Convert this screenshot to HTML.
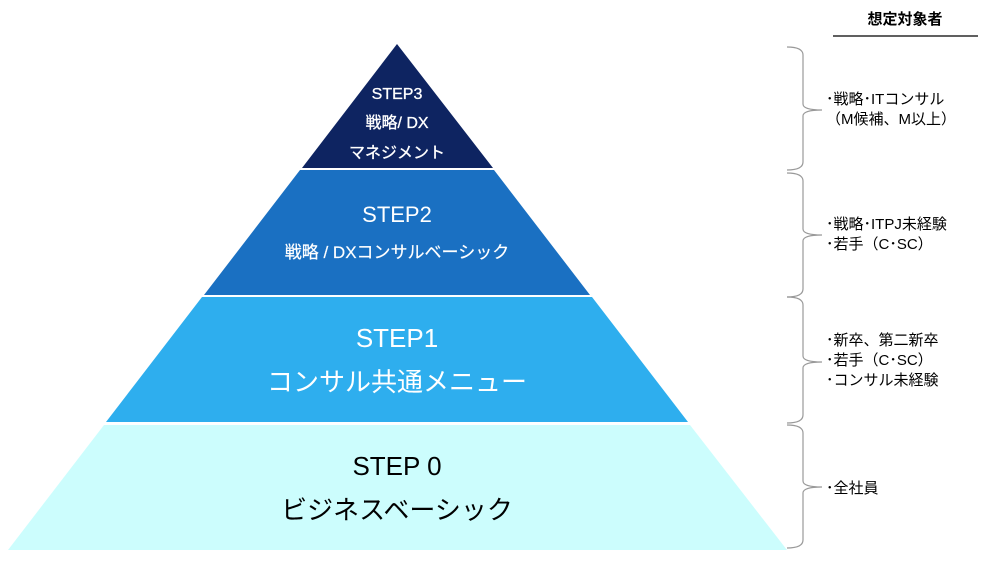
<!DOCTYPE html>
<html><head><meta charset="utf-8"><style>
body{margin:0;background:#fff;}
svg text{font-family:"Liberation Sans","Noto Sans CJK JP",sans-serif;}
</style></head><body>
<svg width="984" height="562" viewBox="0 0 984 562" xmlns="http://www.w3.org/2000/svg">
<polygon points="397,44 493,168 302,168" fill="#0e2461"/>
<polygon points="300,170 494,170 590,295 204,295" fill="#1a70c2"/>
<polygon points="202,297 592,297 688,422 106,422" fill="#2eaeee"/>
<polygon points="104,425 690,425 787,550 8,550" fill="#ccfdfd"/>
<g fill="#fff" text-anchor="middle">
<text x="397" y="99" font-size="16" stroke="#fff" stroke-width="0.3">STEP3</text>
<text x="397" y="128" font-size="16" stroke="#fff" stroke-width="0.3">戦略/ DX</text>
<text x="397" y="158" font-size="16" stroke="#fff" stroke-width="0.3">マネジメント</text>
<text x="397" y="222" font-size="22">STEP2</text>
<text x="397" y="258" font-size="17" stroke="#fff" stroke-width="0.2">戦略 / DXコンサルベーシック</text>
<text x="397" y="347" font-size="26">STEP1</text>
<text x="397" y="391" font-size="26">コンサル共通メニュー</text>
</g>
<g fill="#000" text-anchor="middle">
<text x="397" y="475" font-size="26">STEP 0</text>
<text x="397" y="519" font-size="26">ビジネスベーシック</text>
</g>
<text x="905" y="24" font-size="15" font-weight="bold" text-anchor="middle">想定対象者</text>
<line x1="833" y1="36" x2="978" y2="36" stroke="#000" stroke-width="1.3"/>
<g fill="none" stroke="#999" stroke-width="1.2">
<path d="M787,47 Q803,47 803,55 L803,104 Q803,110 822,110 Q803,110 803,116 L803,162 Q803,170 787,170"/>
<path d="M787,173 Q803,173 803,181 L803,229 Q803,235 822,235 Q803,235 803,241 L803,289 Q803,297 787,297"/>
<path d="M787,297 Q803,297 803,305 L803,356 Q803,362 822,362 Q803,362 803,368 L803,415 Q803,423 787,423"/>
<path d="M787,425 Q803,425 803,433 L803,481 Q803,487 822,487 Q803,487 803,493 L803,540 Q803,548 787,548"/>
</g>
<g font-size="15" fill="#000">
<text x="826" y="104">･戦略･ITコンサル</text>
<text x="826" y="124">（M候補、M以上）</text>
<text x="826" y="229">･戦略･ITPJ未経験</text>
<text x="826" y="249">･若手（C･SC）</text>
<text x="826" y="345">･新卒、第二新卒</text>
<text x="826" y="365">･若手（C･SC）</text>
<text x="826" y="385">･コンサル未経験</text>
<text x="826" y="493">･全社員</text>
</g>
</svg>
</body></html>
